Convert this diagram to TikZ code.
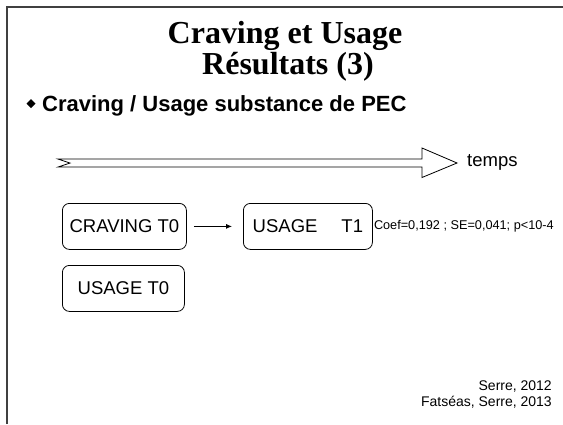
\documentclass[tikz,border=0pt]{standalone}
\usepackage{fontspec}
\setmainfont{Liberation Serif}
\setsansfont{Liberation Sans}
\usetikzlibrary{arrows.meta}
\begin{document}
\begin{tikzpicture}[x=1pt,y=-1pt,
  title/.style={font=\fontsize{32}{32}\selectfont\bfseries, anchor=base, inner sep=0pt},
  stage/.style={draw, rounded corners=7pt, line width=0.8pt, font=\sffamily\fontsize{18.5}{20}\selectfont, minimum height=46pt, inner sep=0pt, anchor=north west},
  small/.style={font=\sffamily\fontsize{12.7}{14}\selectfont, inner sep=0pt},
  ref/.style={font=\sffamily\fontsize{14}{16}\selectfont, inner sep=0pt, anchor=base east}]
\useasboundingbox (0,0) rectangle (563,424);
\fill[white] (0,0) rectangle (563,424);
% frame
\draw[line width=1.5pt, black!75] (7,424) -- (7,7) -- (563,7);
% title
\node[title] (t1) at (285,43) {Craving et Usage};
\node[title] (t2) at (288,74) {Résultats (3)};
% bullet
\fill (31,99) -- (35.5,103.5) -- (31,108) -- (26.5,103.5) -- cycle;
\node[font=\sffamily\bfseries\fontsize{22}{24}\selectfont, anchor=base west, inner sep=0pt] (b1) at (42,111) {Craving / Usage substance de PEC};
% time arrow
\draw[line width=0.8pt, fill=white] (58,159) -- (422,159) -- (422,148) -- (457,163) -- (422,177.5) -- (422,167) -- (58,167) -- (70,163) -- cycle;
\node[font=\sffamily\fontsize{18.5}{20}\selectfont, anchor=west, inner sep=0pt] (temps) at (467,162) {temps};
% boxes
\node[stage, minimum width=124pt] (c0) at (62,203) {CRAVING T0};
\node[stage, minimum width=129pt] (u1) at (243,203) {USAGE\hspace{24pt}T1};
\node[stage, minimum width=122pt] (u0) at (62,265) {USAGE T0};
\draw[-{Latex[length=6pt,width=5pt]}, line width=0.8pt] ([xshift=7pt]c0.east) -- ([xshift=-11pt]u1.west);
\node[small, anchor=west] (coef) at ([xshift=1pt]u1.east) {Coef=0,192 ; SE=0,041; p<10-4};
% references
\node[ref] (r1) at (552,390) {Serre, 2012};
\node[ref] (r2) at (552,406) {Fatséas, Serre, 2013};
\end{tikzpicture}
\end{document}
